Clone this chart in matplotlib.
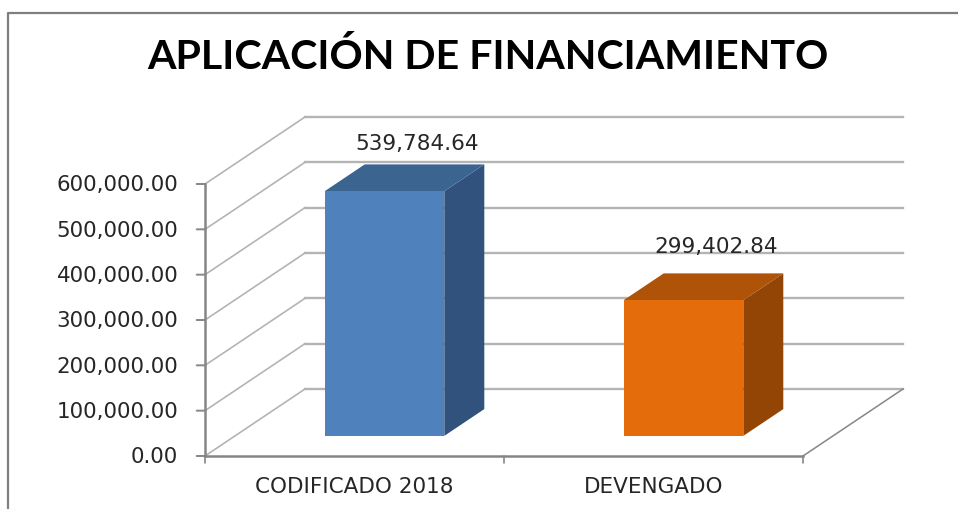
import matplotlib
matplotlib.use("Agg")
import matplotlib.pyplot as plt
from matplotlib.lines import Line2D
from matplotlib.patches import Polygon

categorias = ["CODIFICADO 2018", "DEVENGADO"]
valores = [539784.64, 299402.84]
etiquetas = ["539,784.64", "299,402.84"]
ticks_y = [0, 100000, 200000, 300000, 400000, 500000, 600000]
colores_frente = ["#4F81BD", "#E46C0A"]
colores_arriba = ["#3C6491", "#AE5308"]
colores_lado = ["#30527C", "#934506"]
# separacion de cada etiqueta sobre la barra, en puntos
sep_etiquetas = [15, 18.7]

W, H = 958, 509
# desplazamiento oblicuo del fondo del grafico 3D, en unidades de datos
DX = 100 / 299
DY = 67 / 272 * 600000
ANCHO = 0.4
GRIS = "#B4B4B4"
EJE = "#868686"
TEXTO = "#262626"


def proy(x, y, z):
    return x + z * DX, y + z * DY


fig = plt.figure(figsize=(W / 100, H / 100), dpi=100)
ax = fig.add_axes([205 / W, (H - 456) / H, 598 / W, 272 / H])
ax.set_xlim(0, 2)
ax.set_ylim(0, 600000)
ax.axis("off")

# paredes: lineas de la cuadricula
for t in ticks_y:
    ax.plot(*zip(proy(0, t, 0), proy(0, t, 1)), color=GRIS, lw=1.2, clip_on=False, zorder=1)
    ax.plot(*zip(proy(0, t, 1), proy(2, t, 1)), color=GRIS, lw=1.7, clip_on=False, zorder=1)
# piso
ax.plot(*zip(proy(2, 0, 0), proy(2, 0, 1)), color=EJE, lw=1.1, clip_on=False, zorder=1)
ax.plot([0, 2], [0, 0], color=EJE, lw=1.8, clip_on=False, zorder=2)
ax.plot([0, 0], [0, 600000], color=EJE, lw=1.8, clip_on=False, zorder=2)

# barras
for i, v in enumerate(valores):
    x0 = i + 0.5 - ANCHO / 2
    x1 = i + 0.5 + ANCHO / 2
    frente = [proy(x0, 0, 0.3), proy(x1, 0, 0.3), proy(x1, v, 0.3), proy(x0, v, 0.3)]
    arriba = [proy(x0, v, 0.3), proy(x1, v, 0.3), proy(x1, v, 0.7), proy(x0, v, 0.7)]
    lado = [proy(x1, 0, 0.3), proy(x1, 0, 0.7), proy(x1, v, 0.7), proy(x1, v, 0.3)]
    ax.add_patch(Polygon(lado, color=colores_lado[i], lw=0, clip_on=False, zorder=3))
    ax.add_patch(Polygon(arriba, color=colores_arriba[i], lw=0, clip_on=False, zorder=3))
    ax.add_patch(Polygon(frente, color=colores_frente[i], lw=0, clip_on=False, zorder=4))
    ax.annotate(etiquetas[i], proy(i + 0.5, v, 0.7), xytext=(-5.4, sep_etiquetas[i]),
                textcoords="offset points", ha="center", va="center", fontsize=15.5, color=TEXTO,
                family="DejaVu Sans", annotation_clip=False, zorder=5)

# marcas y etiquetas de los ejes
for t in ticks_y:
    ax.annotate("", (0, t), xytext=(-6, 0), textcoords="offset points", annotation_clip=False,
                arrowprops=dict(arrowstyle="-", color=EJE, lw=1.4, shrinkA=0, shrinkB=0))
    ax.annotate(f"{t:,.2f}", (0, t), xytext=(-19.3, -1), textcoords="offset points", ha="right",
                va="center", fontsize=15.4, color=TEXTO, family="DejaVu Sans", annotation_clip=False)
for x in [0, 1, 2]:
    ax.annotate("", (x, 0), xytext=(0, -5), textcoords="offset points", annotation_clip=False,
                arrowprops=dict(arrowstyle="-", color=EJE, lw=1.2, shrinkA=0, shrinkB=0))
for i, c in enumerate(categorias):
    ax.annotate(c, (i + 0.5, 0), xytext=(0, -22), textcoords="offset points", ha="center",
                va="center", fontsize=15.5, color=TEXTO, family="DejaVu Sans", annotation_clip=False)

fig.text(488 / W, 1 - 57 / H, "APLICACIÓN DE FINANCIAMIENTO", ha="center", va="center",
         fontsize=29.6, fontweight="bold", family="Lato", color="#000000")

# marco del grafico
fig.add_artist(Line2D([8 / W, 8 / W, 1], [0, 1 - 13 / H, 1 - 13 / H], color="#7F7F7F", lw=1.6))

fig.savefig("out.png", dpi=100)
